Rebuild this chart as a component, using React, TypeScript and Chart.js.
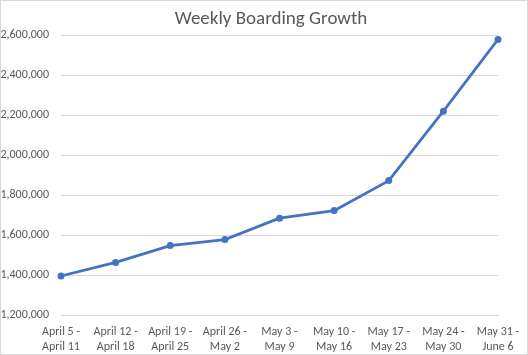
import React, { useEffect, useRef } from "react";
import { Chart, registerables } from "chart.js";

Chart.register(...registerables);

const title = "Weekly Boarding Growth";
const weekStarts = ["April 5 -", "April 12 -", "April 19 -", "April 26 -", "May 3 -", "May 10 -", "May 17 -", "May 24 -", "May 31 -"];
const weekEnds = ["April 11", "April 18", "April 25", "May 2", "May 9", "May 16", "May 23", "May 30", "June 6"];
const boardings = [1395000, 1463000, 1547000, 1577000, 1684000, 1722000, 1872000, 2219000, 2578000];
const yMin = 1200000;
const yMax = 2600000;
const yStep = 200000;

const FONT = "Carlito, Calibri, 'Liberation Sans', Arial, sans-serif";
const TEXT = "#595959";
const GRID = "#d9d9d9";
const BLUE = "#4472C4";

const decorPlugin = {
  id: "decor",
  afterDraw(chart: any) {
    const ctx = chart.ctx;
    ctx.save();
    ctx.strokeStyle = GRID;
    ctx.lineWidth = 1;
    ctx.strokeRect(0.5, 0.5, chart.width - 1, chart.height - 1);
    ctx.fillStyle = TEXT;
    ctx.font = `normal 19px ${FONT}`;
    ctx.textAlign = "center";
    ctx.textBaseline = "middle";
    ctx.fillText(title, 271, 19);
    ctx.restore();
  },
};

export default function App() {
  const ref = useRef<HTMLCanvasElement>(null);

  useEffect(() => {
    if (!ref.current) return;
    const labels = weekStarts.map((s, i) => [s, weekEnds[i]]);
    const chart = new Chart(ref.current, {
      type: "line",
      data: {
        labels,
        datasets: [
          {
            data: boardings,
            borderColor: BLUE,
            backgroundColor: BLUE,
            borderWidth: 2.75,
            pointRadius: 3.5,
            pointBackgroundColor: BLUE,
            pointBorderColor: BLUE,
            pointBorderWidth: 0,
            tension: 0,
          },
        ],
      },
      options: {
        responsive: false,
        animation: false,
        devicePixelRatio: 1,
        layout: { padding: { left: 0, right: 0, top: 35, bottom: 0 } },
        plugins: {
          legend: { display: false },
          tooltip: { enabled: false },
          title: { display: false },
        },
        scales: {
          x: {
            offset: false,
            grid: { display: false, drawTicks: false },
            border: { display: true, color: GRID },
            ticks: {
              color: TEXT,
              font: { family: FONT, size: 12, lineHeight: "15px" },
              padding: 9,
              maxRotation: 0,
              autoSkip: false,
            },
            afterFit(scale: any) {
              scale.height = 40;
              scale.paddingRight = 30;
            },
          },
          y: {
            min: yMin,
            max: yMax,
            grid: { color: GRID, drawTicks: false },
            border: { display: false },
            ticks: {
              stepSize: yStep,
              color: TEXT,
              padding: 12,
              font: { family: FONT, size: 12 },
              callback: (v: any) => Number(v).toLocaleString("en-US"),
            },
            afterFit(scale: any) {
              scale.width = 61;
            },
          },
        },
      },
      plugins: [decorPlugin],
    });
    return () => chart.destroy();
  }, []);

  return (
    <div style={{ position: "absolute", left: 0, top: 0, width: 528, height: 355, background: "#fff" }}>
      <canvas ref={ref} width={528} height={355} style={{ width: 528, height: 355, display: "block" }} />
    </div>
  );
}
